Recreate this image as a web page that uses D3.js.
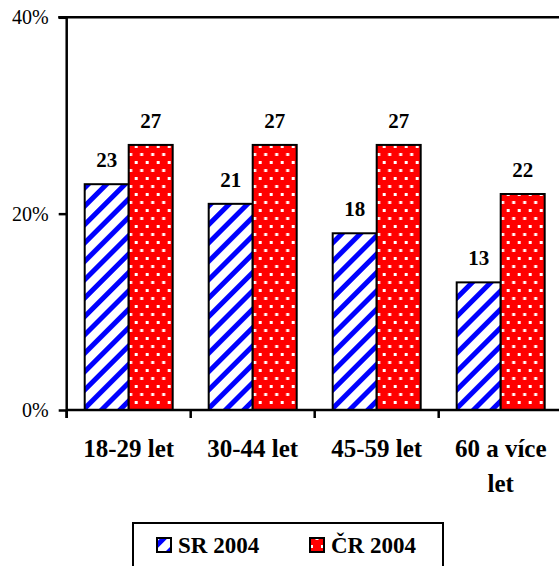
<!DOCTYPE html>
<html>
<head>
<meta charset="utf-8">
<script src="https://cdn.jsdelivr.net/npm/d3@7"></script>
<style>
  html, body { margin: 0; padding: 0; background: #fff; }
  svg { display: block; }
</style>
</head>
<body>
<svg id="chart" width="559" height="566"></svg>
<script>
const categories = ["18-29 let", "30-44 let", "45-59 let", "60 a více let"];
const seriesNames = ["SR 2004", "ČR 2004"];
const srValues = [23, 21, 18, 13];
const crValues = [27, 27, 27, 22];
const yTicks = [0, 20, 40];

(function () {
const FONT = "'Liberation Serif', 'Times New Roman', Times, serif";
const svg = d3.select("#chart");
const mLeft = 66.7, mRight = 562.7, mTop = 17.3, mBottom = 410;

const defs = svg.append("defs");
const pSR = defs.append("pattern").attr("id", "pSR")
  .attr("patternUnits", "userSpaceOnUse").attr("width", 13).attr("height", 13)
  .attr("patternTransform", "rotate(45)");
pSR.append("rect").attr("width", 13).attr("height", 13).attr("fill", "#fff");
pSR.append("rect").attr("width", 5).attr("height", 13).attr("fill", "#0000ff");
const pCR = defs.append("pattern").attr("id", "pCR")
  .attr("patternUnits", "userSpaceOnUse").attr("width", 11).attr("height", 16)
  .attr("x", 2).attr("y", 1);
pCR.append("rect").attr("width", 11).attr("height", 16).attr("fill", "#ff0000");
pCR.append("rect").attr("x", 0).attr("y", 0).attr("width", 3).attr("height", 3).attr("fill", "#fff");
pCR.append("rect").attr("x", 5.5).attr("y", 8).attr("width", 3).attr("height", 3).attr("fill", "#fff");

const fills = ["url(#pSR)", "url(#pCR)"];

const x0 = d3.scaleBand().domain(categories).range([mLeft, mRight]).padding(0);
const x1 = d3.scaleBand().domain(seriesNames).range([18, x0.bandwidth() - 18]).padding(0);
const y = d3.scaleLinear().domain([0, 40]).range([mBottom, mTop]);

const data = categories.map((c, i) => ({ cat: c, vals: [srValues[i], crValues[i]] }));

const groups = svg.append("g").selectAll("g").data(data).join("g")
  .attr("transform", d => `translate(${x0(d.cat)},0)`);
groups.selectAll("rect").data(d => d.vals.map((v, j) => ({ v, s: seriesNames[j], j })))
  .join("rect")
  .attr("x", d => x1(d.s))
  .attr("y", d => y(d.v))
  .attr("width", x1.bandwidth())
  .attr("height", d => y(0) - y(d.v))
  .attr("fill", d => fills[d.j])
  .attr("stroke", "#000").attr("stroke-width", 2);

groups.selectAll("text.val").data(d => d.vals.map((v, j) => ({ v, s: seriesNames[j] })))
  .join("text").attr("class", "val")
  .attr("x", d => x1(d.s) + x1.bandwidth() / 2)
  .attr("y", d => y(d.v) - 17)
  .attr("text-anchor", "middle")
  .style("font-family", FONT)
  .attr("font-weight", "bold").attr("font-size", 21)
  .text(d => d.v);

svg.append("line").attr("x1", mLeft - 8.5).attr("x2", mRight).attr("y1", y(40)).attr("y2", y(40))
  .attr("stroke", "#000").attr("stroke-width", 2.5);

const yAxis = d3.axisLeft(y).tickValues(yTicks).tickSize(8).tickPadding(10)
  .tickFormat(d => d + "%");
const gy = svg.append("g").attr("transform", `translate(${mLeft},0)`).call(yAxis)
  .attr("font-family", null).attr("font-size", null);
gy.select(".domain").attr("stroke", "#000").attr("stroke-width", 2.5).attr("d", `M0,${mTop}V${mBottom + 8}`);
gy.selectAll(".tick line").attr("stroke", "#000").attr("stroke-width", 2.5);
gy.selectAll(".tick text").style("font-family", FONT).style("font-size", "20px").attr("fill", "#000");

const gx = svg.append("g").attr("transform", `translate(0,${mBottom})`);
gx.append("line").attr("x1", mLeft).attr("x2", mRight).attr("y1", 0).attr("y2", 0)
  .attr("stroke", "#000").attr("stroke-width", 2.5);
gx.selectAll("line.tk").data(categories.map(c => x0(c)).concat([mRight]))
  .join("line").attr("class", "tk")
  .attr("x1", d => d).attr("x2", d => d).attr("y1", 0).attr("y2", 8)
  .attr("stroke", "#000").attr("stroke-width", 2.5);

const catText = gx.selectAll("text.cat").data(categories).join("text").attr("class", "cat")
  .attr("x", d => x0(d) + x0.bandwidth() / 2)
  .attr("y", 47)
  .attr("text-anchor", "middle")
  .style("font-family", FONT)
  .attr("font-weight", "bold").attr("font-size", 25);
catText.each(function(d) {
  const t = d3.select(this);
  const words = d.split(" ");
  let line = [];
  const cx = x0(d) + x0.bandwidth() / 2;
  let ts = t.append("tspan").attr("x", cx).attr("dy", 0);
  for (const w of words) {
    line.push(w);
    ts.text(line.join(" "));
    if (ts.node().getComputedTextLength() > x0.bandwidth() - 8 && line.length > 1) {
      line.pop();
      ts.text(line.join(" "));
      line = [w];
      ts = t.append("tspan").attr("x", cx).attr("dy", 35).text(w);
    }
  }
});

const lg = svg.append("g");
lg.append("rect").attr("x", 133).attr("y", 523).attr("width", 310).attr("height", 60)
  .attr("fill", "#fff").attr("stroke", "#000").attr("stroke-width", 2);
const legX = [157, 310];
seriesNames.forEach((s, i) => {
  lg.append("rect").attr("x", legX[i]).attr("y", 538).attr("width", 14).attr("height", 14)
    .attr("fill", fills[i]).attr("stroke", "#000").attr("stroke-width", 2);
  lg.append("text").attr("x", legX[i] + 21).attr("y", 553)
    .style("font-family", FONT)
    .attr("font-weight", "bold").attr("font-size", 23).text(s);
});
})();
</script>
</body>
</html>
